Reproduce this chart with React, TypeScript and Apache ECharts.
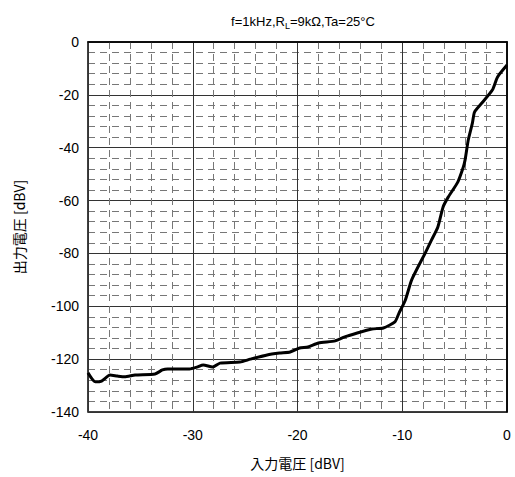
import React, { useEffect, useRef } from "react";
import * as echarts from "echarts";

const titleText = "f=1kHz,R_L=9kΩ,Ta=25°C";
const xAxisName = "入力電圧 [dBV]";
const yAxisName = "出力電圧 [dBV]";

const inputDbv = [
  -40, -39.3, -38.7, -37.9, -37.2, -36.5, -35.5, -33.6, -32.9, -32.4, -30.3,
  -29.6, -29, -28.1, -27.4, -25.5, -24.5, -22.9, -21.7, -20.7, -19.8, -19,
  -18, -16.4, -15.5, -14.3, -12.9, -11.8, -10.7, -10.3, -9.7, -9.1, -7.8,
  -7.2, -6.6, -6.1, -5.6, -4.7, -4.2, -4, -3.7, -3.3, -3.1, -2.4, -1.4, -0.9, 0,
];
const outputDbv = [
  -125.2, -128.6, -128.3, -126, -126.4, -126.7, -126, -125.6, -124.1, -123.7, -123.7,
  -123, -122.2, -123, -121.5, -121.1, -120, -118.4, -117.7, -117.3, -115.8, -115.4,
  -113.9, -113.1, -111.6, -110.1, -108.6, -108.2, -105.9, -102.5, -97.6, -90, -79.8,
  -74.9, -70, -62.4, -58.6, -53, -47.7, -44.6, -37.1, -30.6, -26.5, -23.1, -18.2, -13.2, -8.7,
];

export default function App() {
  const ref = useRef<HTMLDivElement>(null);
  useEffect(() => {
    if (!ref.current) return;
    const chart = echarts.init(ref.current, undefined, { renderer: "svg" });
    const font = "'Liberation Sans', Arial, sans-serif";
    const cjk = "'Noto Sans CJK JP', 'Liberation Sans', sans-serif";
    const data = inputDbv.map((x, i) => [x, outputDbv[i]]);
    chart.setOption({
      animation: false,
      backgroundColor: "#ffffff",
      title: {
        text: "{a|f=1kHz,R}{s|L}{a|=9kΩ,Ta=25°C}",
        left: 298,
        textAlign: "center",
        top: 8,
        textStyle: {
          fontWeight: "normal",
          rich: {
            a: { fontFamily: font, fontSize: 13, fontWeight: "normal", color: "#000" },
            s: { fontFamily: font, fontSize: 9, fontWeight: "normal", color: "#000", verticalAlign: "bottom", padding: [8, 0, 0, 0] },
          },
        },
      },
      grid: {
        left: 88,
        right: 8,
        top: 42,
        bottom: 65,
        show: true,
        borderColor: "#000",
        borderWidth: 1.5,
      },
      xAxis: {
        type: "value",
        min: -40,
        max: 0,
        interval: 10,
        name: xAxisName,
        nameLocation: "middle",
        nameGap: 44,
        nameTextStyle: { fontFamily: cjk, fontSize: 14, color: "#000" },
        axisLine: { show: true, lineStyle: { color: "#000", width: 1.5 } },
        axisTick: { show: false },
        axisLabel: { fontFamily: font, fontSize: 14, color: "#000", margin: 16 },
        splitLine: { show: true, lineStyle: { color: "#333", width: 1 } },
        minorTick: { show: false, splitNumber: 5 },
        minorSplitLine: { show: true, lineStyle: { color: "#777", width: 1, type: [7, 5] } },
      },
      yAxis: {
        type: "value",
        min: -140,
        max: 0,
        interval: 20,
        name: yAxisName,
        nameLocation: "middle",
        nameGap: 62,
        nameTextStyle: { fontFamily: cjk, fontSize: 14, color: "#000" },
        axisLine: { show: true, lineStyle: { color: "#000", width: 1.5 } },
        axisTick: { show: false },
        axisLabel: { fontFamily: font, fontSize: 14, color: "#000", margin: 9 },
        splitLine: { show: true, lineStyle: { color: "#333", width: 1 } },
        minorTick: { show: false, splitNumber: 5 },
        minorSplitLine: { show: true, lineStyle: { color: "#777", width: 1, type: [7, 5] } },
      },
      series: [
        {
          type: "line",
          data,
          showSymbol: false,
          smooth: 0.2,
          lineStyle: { color: "#000", width: 3 },
        },
      ],
    });
    return () => chart.dispose();
  }, []);
  return (
    <div
      ref={ref}
      style={{ position: "fixed", left: 0, top: 0, width: 515, height: 477 }}
    />
  );
}
